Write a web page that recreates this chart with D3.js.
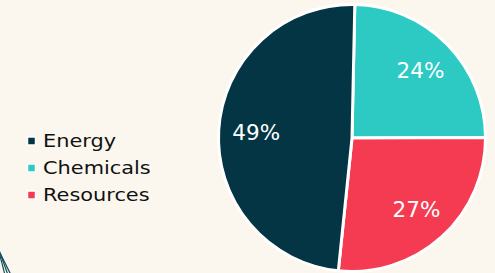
<!DOCTYPE html>
<html>
<head>
<meta charset="utf-8">
<script src="https://cdn.jsdelivr.net/npm/d3@7"></script>
<style>
  html, body { margin: 0; padding: 0; background: #fbf7ef; }
  svg { display: block; }
</style>
</head>
<body>
<svg id="chart" width="495" height="273"></svg>
<script>
const categories = ["Chemicals", "Resources", "Energy"];
const values = [24.6, 26.7, 48.7];
const pctLabels = ["24%", "27%", "49%"];
const colors = ["#2ccac3", "#f43b52", "#033545"];
const legendOrder = ["Energy", "Chemicals", "Resources"];

const W = 495, H = 273;
const svg = d3.select("#chart");
svg.append("rect").attr("width", W).attr("height", H).attr("fill", "#fbf7ef");

// decorative lines bottom-left
const deco = svg.append("g").attr("stroke", "#0f4a5a").attr("stroke-width", 1.2).attr("fill", "none");
[0, 3, 6].forEach(o => {
  deco.append("line").attr("x1", -3 + o * 0.5).attr("y1", 244 + o * 1.5).attr("x2", 5 + o).attr("y2", 275);
});

const color = d3.scaleOrdinal().domain(categories).range(colors);
const cx = 352, cy = 138, r = 133.5;
const data = categories.map((c, i) => ({ cat: c, value: values[i], label: pctLabels[i] }));
const a0 = 1.2 * Math.PI / 180;
const pie = d3.pie().sort(null).value(d => d.value).startAngle(a0).endAngle(2 * Math.PI + a0);
const arc = d3.arc().innerRadius(0).outerRadius(r);
const labelArc = d3.arc().innerRadius(96).outerRadius(96);

const g = svg.append("g").attr("transform", `translate(${cx},${cy})`);
const arcs = pie(data);
g.selectAll("path").data(arcs).join("path")
  .attr("d", arc)
  .attr("fill", d => color(d.data.cat))
  .attr("stroke", "#ffffff")
  .attr("stroke-width", 3)
  .attr("stroke-linejoin", "round");

g.selectAll("text").data(arcs).join("text")
  .attr("transform", d => { const [x, y] = labelArc.centroid(d); return `translate(${x},${y})`; })
  .attr("text-anchor", "middle")
  .attr("dy", "0.36em")
  .attr("fill", "#ffffff")
  .attr("font-family", "DejaVu Sans, Verdana, sans-serif")
  .attr("font-size", 21.5)
  .text(d => d.data.label);

// legend
const legend = svg.append("g");
const ly = d3.scalePoint().domain(legendOrder).range([141, 195]);
legendOrder.forEach(name => {
  const y = ly(name);
  legend.append("rect").attr("x", 27.5).attr("y", y - 4).attr("width", 8).attr("height", 8)
    .attr("fill", color(name)).attr("stroke", "#ffffff").attr("stroke-width", 1.5);
  legend.append("text")
    .attr("transform", `translate(43,${y}) scale(1.16,1)`)
    .attr("dy", "0.36em")
    .attr("font-family", "DejaVu Sans, Verdana, sans-serif")
    .attr("font-size", 18)
    .attr("fill", "#111111")
    .text(name);
});
</script>
</body>
</html>
